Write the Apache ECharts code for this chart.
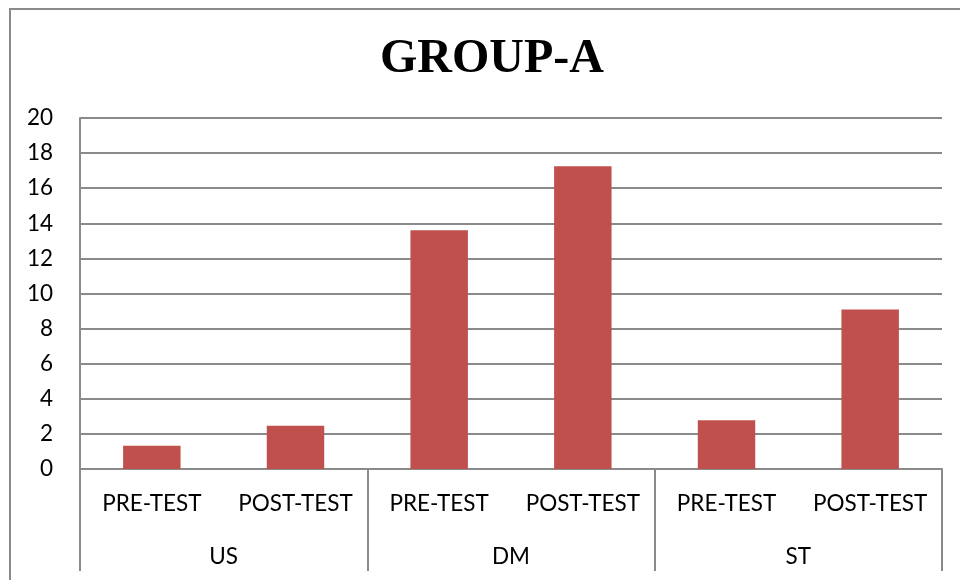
<!DOCTYPE html>
<html>
<head>
<meta charset="utf-8">
<script src="https://cdn.jsdelivr.net/npm/echarts@6/dist/echarts.min.js"></script>
<style>html,body{margin:0;padding:0;background:#fff}#c{width:960px;height:580px}</style>
</head>
<body>
<div id="c"></div>
<script>
const titleText = 'GROUP-A';
const testLabels = ['PRE-TEST', 'POST-TEST', 'PRE-TEST', 'POST-TEST', 'PRE-TEST', 'POST-TEST'];
const groupLabels = ['US', 'DM', 'ST'];
const values = [1.33, 2.47, 13.6, 17.25, 2.78, 9.09];
const yTicks = { min: 0, max: 20, interval: 2 };

const chart = echarts.init(document.getElementById('c'));
const gray = '#8a8a8a';
const labelFont = 'Lato';
const labelSize = 22.5;
chart.setOption({
  animation: false,
  backgroundColor: '#fff',
  title: {
    text: titleText,
    left: 375, top: 31,
    textStyle: { fontFamily: 'Liberation Serif', fontWeight: 'bold', fontSize: 48, color: '#000' }
  },
  graphic: [{
    type: 'rect', silent: true,
    shape: { x: 10, y: 9, width: 1000, height: 1000 },
    style: { fill: 'none', stroke: gray, lineWidth: 2 }
  }],
  grid: { left: 80, right: 18, top: 118, bottom: 111, containLabel: false },
  xAxis: [{
    type: 'category', data: testLabels, position: 'bottom',
    axisLine: { show: true, lineStyle: { color: gray, width: 2 } },
    axisTick: { show: false },
    axisLabel: { interval: 0, margin: 23, fontFamily: labelFont, fontSize: labelSize, color: '#000' }
  }, {
    type: 'category', data: groupLabels, position: 'bottom',
    axisLine: { show: false },
    axisTick: { show: true, interval: 0, length: 102, lineStyle: { color: gray, width: 2 } },
    axisLabel: { interval: 0, margin: 76, fontFamily: labelFont, fontSize: labelSize, color: '#000' }
  }],
  yAxis: {
    type: 'value', min: yTicks.min, max: yTicks.max, interval: yTicks.interval,
    axisLine: { show: true, lineStyle: { color: gray, width: 2 } },
    axisTick: { show: false },
    splitLine: { show: true, lineStyle: { color: gray, width: 2 } },
    axisLabel: { margin: 27, fontFamily: labelFont, fontSize: labelSize, color: '#000' }
  },
  series: [{
    type: 'bar', data: values, xAxisIndex: 0, barWidth: '40%',
    itemStyle: { color: '#C0504D' }
  }]
});
</script>
</body>
</html>
